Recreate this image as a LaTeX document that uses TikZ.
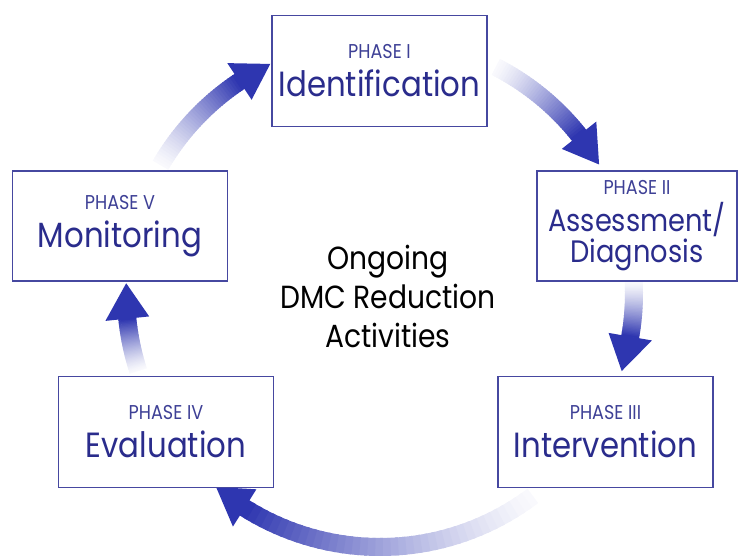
\documentclass[tikz,border=0pt]{standalone}
\usepackage{fontspec}
\setmainfont{Poppins}[FakeStretch=0.88]
\usetikzlibrary{calc}
\definecolor{boxblue}{RGB}{70,72,160}
\definecolor{labelblue}{RGB}{62,64,150}
\definecolor{titleblue}{RGB}{42,44,140}
\definecolor{arrowblue}{RGB}{46,54,176}
\tikzset{
  phase/.style    = {draw=boxblue, line width=1.2pt, fill=white, rectangle, align=center,
                     minimum width=215pt, minimum height=111pt, inner sep=0pt, text=titleblue,
                     font=\fontsize{35}{38}\selectfont},
  hub/.style      = {coordinate},
  centre/.style   = {align=center, font=\fontsize{32}{39}\selectfont}
}
% small "PHASE" line above each title
\newcommand{\phaseno}[1]{{\fontsize{20}{24}\selectfont\color{labelblue}PHASE #1}}
% faded arc arrow round the hub, from angle #1 to angle #2
\newcommand{\cyclearrow}[2]{%
  \pgfmathsetmacro{\headang}{(#2>#1 ? -1 : 1)*8}
  \pgfmathsetmacro{\shaftend}{#2+\headang}
  \foreach \k in {0,...,39}{
    \pgfmathsetmacro{\aa}{#1+(\shaftend-#1)*\k/40}
    \pgfmathsetmacro{\ab}{#1+(\shaftend-#1)*(\k+1.4)/40}
    \pgfmathsetmacro{\tone}{3+97*(\k/39)^1.3}
    \draw[arrowblue!\tone, line width=18pt] ($(hub)+(\aa:254)$) arc[start angle=\aa, end angle=\ab, radius=254];
  }
  \fill[arrowblue] ($(hub)+(#2:254)$) -- ($(hub)+(\shaftend:276)$) -- ($(hub)+(\shaftend:232)$) -- cycle;
}

\begin{document}
\begin{tikzpicture}[x=1pt, y=-1pt]
\useasboundingbox (0,0) rectangle (741,559);

\coordinate [hub] (hub) at (380,293);

% Arrows
\cyclearrow{-149.8}{-115.6}
\cyclearrow{-62.9}{-30.4}
\cyclearrow{-2.6}{17.9}
\cyclearrow{53}{130.2}
\cyclearrow{162.1}{182.2}

% Phases
\node [phase] (ident) at (379.5,71) {\phaseno{I}\\Identification};
\node [phase, minimum width=200pt, minimum height=110pt, font=\fontsize{31}{31}\selectfont]
  (assess) at (637,226) {\phaseno{II}\\[6pt]Assessment/\\Diagnosis};
\node [phase] (interv) at (605.5,432) {\phaseno{III}\\Intervention};
\node [phase] (eval) at (166,432) {\phaseno{IV}\\Evaluation};
\node [phase, minimum height=110pt] (monit) at (120,226) {\phaseno{V}\\Monitoring};

% Centre
\node [centre] (ongoing) at (388,296) {Ongoing\\DMC Reduction\\Activities};

\end{tikzpicture}
\end{document}
